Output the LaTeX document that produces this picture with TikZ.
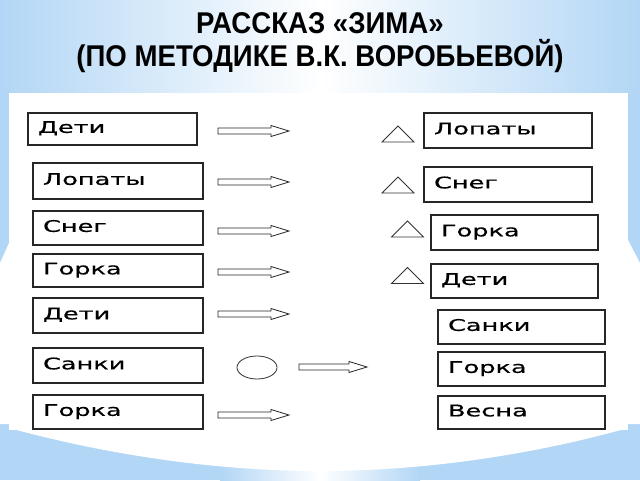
\documentclass[tikz,border=0pt]{standalone}
\usepackage{fontspec}
\setmainfont{Liberation Sans}
\newfontfamily\boxfont{DejaVu Sans}[FakeStretch=1.6, FakeBold=0.6]
\newfontfamily\titlefont{Liberation Sans}[FakeStretch=0.92]
\definecolor{bgblue}{RGB}{178,214,245}
\tikzset{
  box/.style={draw=black!85, line width=1.3pt, fill=white, inner xsep=10pt, inner ysep=0pt,
    text height=11.7pt, text depth=4pt, align=left, font=\boxfont\fontsize{16}{18}\selectfont},
  arrowline/.style={draw=black!85, line width=0.8pt, fill=white},
  shapeline/.style={draw=black!80, line width=0.8pt},
  titletext/.style={font=\titlefont\bfseries\fontsize{30}{36}\selectfont, anchor=base, inner sep=0pt},
  harrow/.pic={\draw[arrowline] (0,-3) -- (#1-18,-3) -- (#1-18,-5.5) -- (#1,0) -- (#1-18,5.5) -- (#1-18,3) -- (0,3) -- cycle;},
  tri/.pic={\draw[shapeline] (-16,8) -- (0,-8) -- (16,8) -- cycle;}
}
\begin{document}
\begin{tikzpicture}[x=1pt,y=-1pt]
\useasboundingbox (0,0) rectangle (640,480);
% background
\fill[bgblue] (0,0) rectangle (640,480);
\shade[left color=bgblue, right color=bgblue, middle color=white] (220,440) rectangle (420,480);
\shade[left color=bgblue, right color=bgblue, middle color=white] (0,0) rectangle (640,93);
\fill[white] (9,243) -- (0,263) -- (0,424) -- (9,424) -- cycle;
\fill[white] (628,240) -- (640,263) -- (640,424) -- (628,424) -- cycle;
\fill[white] (9,428) .. controls (90,450) and (200,471) .. (320,471) .. controls (440,471) and (550,450) .. (628,428) -- cycle;
\fill[white] (9,93) rectangle (628,430);
% title
\node[titletext] (t1) at (320,33) {РАССКАЗ «ЗИМА»};
\node[titletext] (t2) at (320,66) {(ПО МЕТОДИКЕ В.К. ВОРОБЬЕВОЙ)};
% left boxes
\node[box, text width=149pt, minimum height=32pt] (L1) at (112.5,129) {Дети};
\node[box, text width=150pt, minimum height=36pt] (L2) at (118,181) {Лопаты};
\node[box, text width=150pt, minimum height=34pt] (L3) at (118,228) {Снег};
\node[box, text width=150pt, minimum height=33pt] (L4) at (118,270.5) {Горка};
\node[box, text width=150pt, minimum height=35pt] (L5) at (118,315.5) {Дети};
\node[box, text width=150pt, minimum height=35pt] (L6) at (118,365.5) {Санки};
\node[box, text width=150pt, minimum height=34pt] (L7) at (118,412) {Горка};
% right boxes
\node[box, text width=148pt, minimum height=35pt] (R1) at (508,130.5) {Лопаты};
\node[box, text width=148pt, minimum height=35pt] (R2) at (508,184.5) {Снег};
\node[box, text width=147pt, minimum height=35pt] (R3) at (514.5,232.5) {Горка};
\node[box, text width=147pt, minimum height=34pt] (R4) at (514.5,281) {Дети};
\node[box, text width=147pt, minimum height=34pt] (R5) at (521.5,327) {Санки};
\node[box, text width=147pt, minimum height=34pt] (R6) at (521.5,369) {Горка};
\node[box, text width=147pt, minimum height=33pt] (R7) at (521.5,412.5) {Весна};
% arrows
\pic at (218,131) {harrow=71};
\pic at (218,182) {harrow=71};
\pic at (218,231) {harrow=71};
\pic at (218,272) {harrow=71};
\pic at (218,314) {harrow=71};
\pic at (299,367) {harrow=68};
\pic at (218,415) {harrow=71};
% triangles
\pic at (398,134) {tri};
\pic at (398,185) {tri};
\pic at (407.5,229) {tri};
\pic at (407.5,275.5) {tri};
% circle
\draw[shapeline] (257,367.5) ellipse [x radius=20pt, y radius=11.5pt];
\end{tikzpicture}
\end{document}
